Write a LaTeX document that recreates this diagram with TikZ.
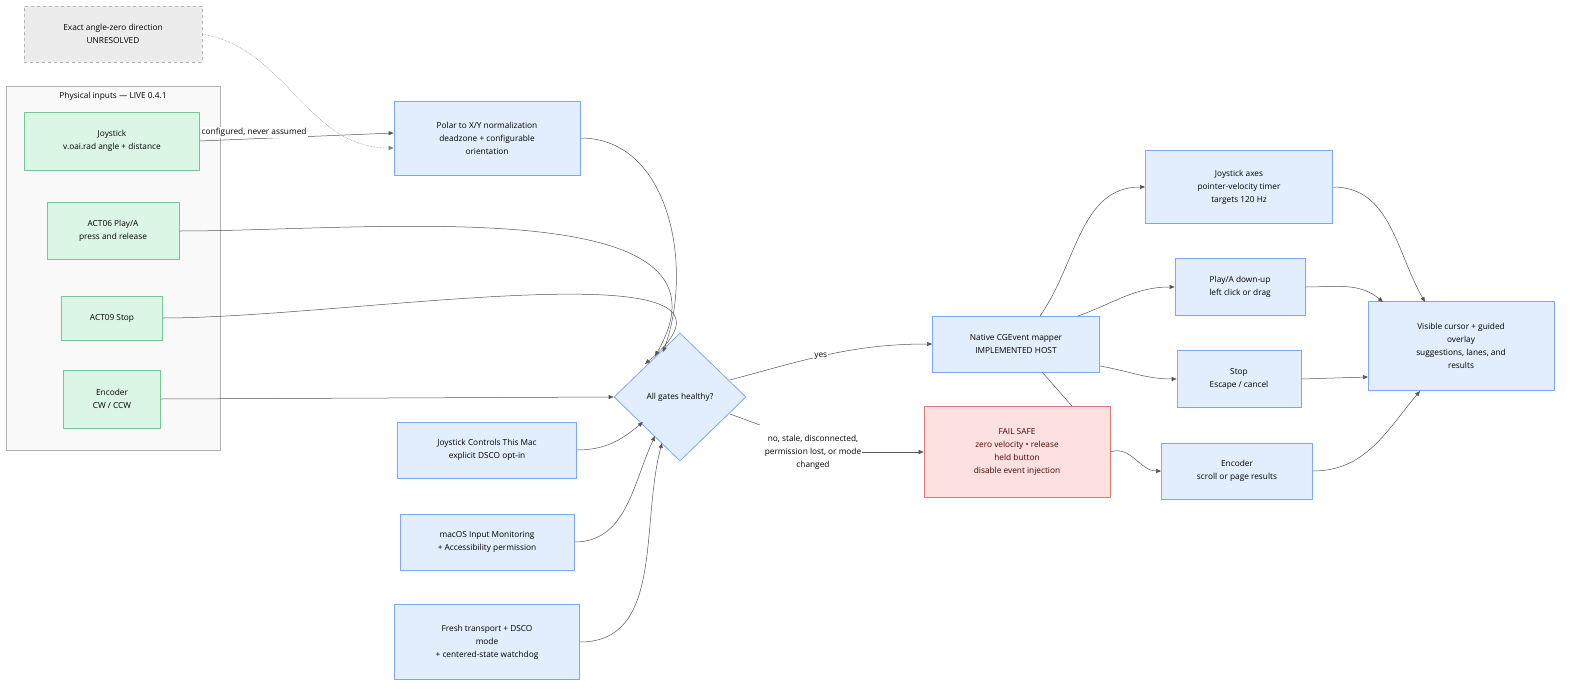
\documentclass[tikz,border=0pt]{standalone}
\usepackage{fontspec}
\setmainfont{Open Sans}
\usetikzlibrary{shapes.geometric,arrows.meta}
\definecolor{bfill}{HTML}{E2EEFD}\definecolor{bdraw}{HTML}{7FA7F5}
\definecolor{gfill}{HTML}{DBF6E5}\definecolor{gdraw}{HTML}{76C796}
\definecolor{rfill}{HTML}{FDE0E0}\definecolor{rdraw}{HTML}{E07777}
\definecolor{edge}{HTML}{555555}
\begin{document}
\begin{tikzpicture}[x=1pt,y=-1pt,font=\fontsize{8.3}{13}\selectfont,
 box/.style={draw=bdraw,fill=bfill,line width=0.8pt,align=center,inner sep=0pt},
 gbox/.style={draw=gdraw,fill=gfill,line width=0.8pt,align=center,inner sep=0pt},
 e/.style={draw=edge,line width=0.5pt,-{Triangle[length=5pt,width=4pt]}},
 ne/.style={draw=edge,line width=0.5pt},
 lbl/.style={fill=white,inner sep=1pt,align=center,font=\fontsize{8.3}{13}\selectfont}]
\useasboundingbox (0,0) rectangle (1584,696);
\draw[fill=gray!5,draw=gray!60,line width=0.6pt] (6,86) rectangle (220,450);
\node at (113,96) {Physical inputs — LIVE 0.4.1};
\node[draw=gray!60,dashed,fill=gray!15,minimum width=178,minimum height=56,align=center] (unr) at (113,34) {Exact angle-zero direction\\UNRESOLVED};
\node[gbox,minimum width=175,minimum height=58] (joy) at (112,141) {Joystick\\v.oai.rad angle + distance};
\node[gbox,minimum width=132,minimum height=57] (a6) at (113,231) {ACT06 Play/A\\press and release};
\node[gbox,minimum width=101,minimum height=44] (a9) at (112,318) {ACT09 Stop};
\node[gbox,minimum width=97,minimum height=58] (enc) at (112,399) {Encoder\\CW / CCW};
\node[box,minimum width=186,minimum height=74] (pol) at (487,138) {Polar to X/Y normalization\\deadzone + configurable\\orientation};
\node[box,diamond,aspect=1.03,minimum width=132,minimum height=128] (dia) at (680,397) {All gates healthy?};
\node[box,minimum width=179,minimum height=56] (jcm) at (487,450) {Joystick Controls This Mac\\explicit DSCO opt-in};
\node[box,minimum width=174,minimum height=56] (mac) at (487,542) {macOS Input Monitoring\\+ Accessibility permission};
\node[box,minimum width=185,minimum height=75] (fr) at (487,642) {Fresh transport + DSCO\\mode\\+ centered-state watchdog};
\node[box,minimum width=167,minimum height=56] (nat) at (1016,344) {Native CGEvent mapper\\IMPLEMENTED HOST};
\node[draw=rdraw,fill=rfill,line width=0.8pt,align=center,inner sep=0pt,minimum width=186,minimum height=91,text=red!30!black] (fail) at (1017,452) {FAIL SAFE\\zero velocity • release\\held button\\disable event injection};
\node[box,minimum width=187,minimum height=73] (jax) at (1239,187) {Joystick axes\\pointer-velocity timer\\targets 120 Hz};
\node[box,minimum width=130,minimum height=57] (pl) at (1240,287) {Play/A down-up\\left click or drag};
\node[box,minimum width=124,minimum height=57] (st) at (1239,379) {Stop\\Escape / cancel};
\node[box,minimum width=151,minimum height=56] (er) at (1237,471) {Encoder\\scroll or page results};
\node[box,minimum width=186,minimum height=89] (vis) at (1461,346) {Visible cursor + guided\\overlay\\suggestions, lanes, and\\results};
% edges
\draw[e] (joy.east) -- (pol.west |- 0,133) node[lbl,pos=0.28,above=1pt] {configured, never assumed};
\draw[e,densely dotted,draw=gray] (unr.east) to[out=-10,in=180] (pol.west |- 0,148);
\draw[e] (pol.east) to[out=0,in=70] (663,352);
\draw[e] (a6.east) to[out=0,in=60] (655,356);
\draw[e] (a9.east) to[out=0,in=40] (645,364);
\draw[e] (enc.east) -- (dia.west);
\draw[e] (jcm.east) to[out=0,in=-140] (643,422);
\draw[e] (mac.east) to[out=0,in=-115] (655,436);
\draw[e] (fr.east) to[out=0,in=-105] (662,443);
\draw[e] (730,380) to[out=15,in=180] node[lbl,pos=0.45] {yes} (nat.west);
\draw[ne] (730,414) -- (760,425);
\node[lbl] (nol) at (813,452) {no, stale, disconnected,\\permission lost, or mode\\changed};
\draw[e] (nol.east) -- (fail.west);
\draw[ne] (1042,372) -- (fail.north -| 1072,0);
\draw[e] (1040,316) to[out=55,in=180] (jax.west);
\draw[e] (1078,316) to[out=20,in=180] (pl.west);
\draw[e] (1100,366) to[out=-10,in=180] (st.west);
\draw[e] (fail.east |- 0,452) to[out=20,in=180] (er.west);
\draw[e] (jax.east) to[out=0,in=120] (1425,302);
\draw[e] (pl.east) to[out=0,in=140] (1383,302);
\draw[e] (st.east) -- (1368,377);
\draw[e] (er.east) to[out=0,in=-130] (1420,391);
\end{tikzpicture}
\end{document}
